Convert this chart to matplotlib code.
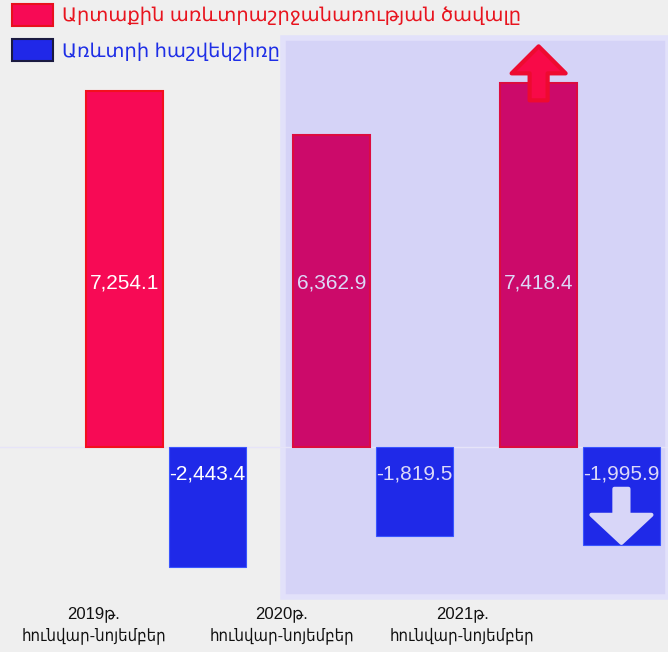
import matplotlib
matplotlib.use("Agg")
import matplotlib.pyplot as plt
import numpy as np
from matplotlib.patches import Patch, Polygon, Rectangle

plt.rcParams["font.family"] = ["Liberation Sans", "DejaVu Sans"]

# data
periods = ["2019թ.\nհունվար-նոյեմբեր", "2020թ.\nհունվար-նոյեմբեր", "2021թ.\nհունվար-նոյեմբեր"]
turnover = [7254.1, 6362.9, 7418.4]
balance = [-2443.4, -1819.5, -1995.9]
series_names = ["Արտաքին առևտրաշրջանառության ծավալը", "Առևտրի հաշվեկշիռը"]

W, H = 668, 652
fig = plt.figure(figsize=(W / 100, H / 100), dpi=100)
fig.patch.set_facecolor("#efefef")

# lavender panel behind 2020/2021
fig.add_artist(Rectangle((283 / W, 1 - 597 / H), (W - 283) / W, (597 - 38) / H,
                         transform=fig.transFigure, facecolor="#d5d3f7",
                         edgecolor="#e2e1fa", lw=4, zorder=-1))

ax = fig.add_axes([0, 0, 1, 1])
ax.patch.set_visible(False)
ax.axis("off")
ax.set_xlim(-0.802, 2.425)
ax.set_ylim(-4182, 9119)

x = np.arange(len(periods))
off, bw = 0.2, 0.372
red_face = ["#f70a55", "#cc0a6a", "#cc0a6a"]
red_edge = ["#f2101e", "#dc0c40", "#dc0c40"]
txt_col = ["white", "#dcd9f8", "#dcd9f8"]

ax.axhline(0, color="#e6e4f8", lw=1, zorder=1)
rb = ax.bar(x - off, turnover, bw, color=red_face, edgecolor=red_edge, lw=1.5, zorder=2)
bb = ax.bar(x + off, balance, bw, color="#1f29e8", edgecolor="#3a55ff", lw=0.8, zorder=2)

for i in range(len(periods)):
    ax.text(x[i] - off, 3350, f"{turnover[i]:,.1f}", ha="center", va="center",
            fontsize=15, color=txt_col[i], zorder=3)
    ax.text(x[i] + off, -560, f"{balance[i]:,.1f}", ha="center", va="center",
            fontsize=15, color=txt_col[i], zorder=3)

tick_x = [-0.35, 0.56, 1.43]
for tx, lab in zip(tick_x, periods):
    ax.text(tx, 0.07, lab, transform=ax.get_xaxis_transform(), ha="center", va="top",
            fontsize=12, fontstretch="condensed", linespacing=1.4, color="#111111")

# arrows anchored to the 2021 bars (display pixels)
cx, top = ax.transData.transform((x[2] - off, turnover[2]))
up = [(0, 37), (27, 10), (9, 10), (9, -17), (-9, -17), (-9, 10), (-27, 10)]
fig.add_artist(Polygon([(cx + a, top + b) for a, b in up], closed=True, transform=None,
                       facecolor="#f80a48", edgecolor="#ee0a30", lw=3, joinstyle="round",
                       zorder=5))
cx, bot = ax.transData.transform((x[2] + off, balance[2]))
down = [(0, 2), (30, 30), (7, 30), (7, 56), (-7, 56), (-7, 30), (-30, 30)]
fig.add_artist(Polygon([(cx + a, bot + b) for a, b in down], closed=True, transform=None,
                       facecolor="#d8d6f8", edgecolor="#d8d6f8", lw=3, joinstyle="round",
                       zorder=5))

handles = [Patch(facecolor="#f70a55", edgecolor="#e8101e", lw=1.5),
           Patch(facecolor="#2028e8", edgecolor="#1a1a40", lw=1.5)]
fig.legend(handles, series_names, loc="upper left", bbox_to_anchor=(0.018, 0.994),
           frameon=False, fontsize=14, handlelength=2.1, handleheight=1.35,
           handletextpad=0.45, labelspacing=0.7, borderpad=0, borderaxespad=0,
           labelcolor=["#e8141e", "#1e2ee6"])

fig.savefig("out.png", dpi=100, facecolor=fig.get_facecolor())
